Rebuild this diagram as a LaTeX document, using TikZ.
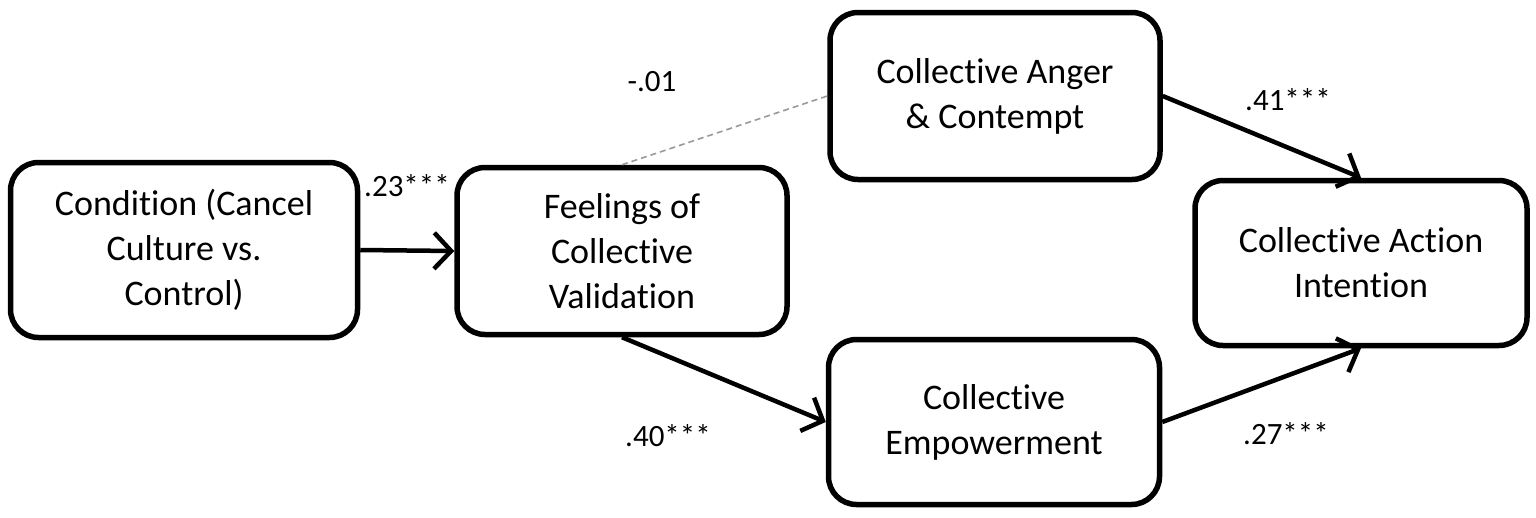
\documentclass[tikz,border=0pt]{standalone}
\usepackage{fontspec}
\setmainfont[Ligatures=NoCommon]{Carlito}
\usetikzlibrary{arrows.meta}
\begin{document}
\begin{tikzpicture}[x=1pt,y=-1pt,
  box/.style={draw, line width=5.5pt, rounded corners=28pt, align=center,
    font=\fontsize{36}{45}\selectfont, inner sep=0pt},
  conn/.style={line width=4.5pt, -{Straight Barb[length=17pt,width=36pt,line width=4.5pt]}},
  dashconn/.style={draw=gray!80, line width=1.6pt, dash pattern=on 6pt off 4pt},
  lab/.style={font=\fontsize{31}{36}\selectfont, inner sep=0pt}]
\useasboundingbox (0,0) rectangle (1536,517);
\node[box, minimum width=347pt, minimum height=175pt] (cond) at (184,250) {Condition (Cancel\\Culture vs.\\Control)};
\node[box, minimum width=330pt, minimum height=167pt] (feel) at (622,251) {Feelings of\\Collective\\Validation};
\node[box, minimum width=330pt, minimum height=167pt] (anger) at (995,96) {Collective Anger\\\& Contempt};
\node[box, minimum width=331pt, minimum height=165pt] (emp) at (994,422) {Collective\\Empowerment};
\node[box, minimum width=332pt, minimum height=165pt] (act) at (1361,263) {Collective Action\\Intention};
\draw[conn] (cond.east) -- (feel.west);
\draw[conn] (feel.south) -- (emp.west);
\draw[conn] (anger.east) -- (act.north);
\draw[conn] (emp.east) -- (act.south);
\draw[dashconn] (feel.north) -- (anger.west);
\node[lab] (l23) at (407,186) {.23***};
\node[lab] (l01) at (652,82) {-.01};
\node[lab] (l40) at (668,436) {.40***};
\node[lab] (l41) at (1288,100) {.41***};
\node[lab] (l27) at (1286,434) {.27***};
\end{tikzpicture}
\end{document}
